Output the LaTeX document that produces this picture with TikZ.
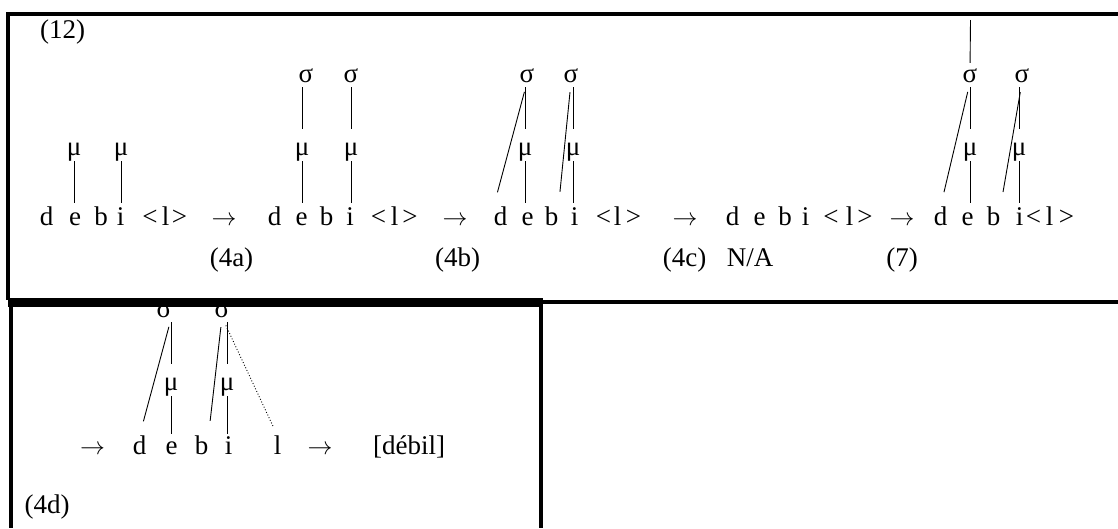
\documentclass[tikz,border=0pt]{standalone}
\usepackage{fontspec}
\setmainfont{Liberation Serif}
\newcommand{\rarr}{$\rightarrow$}
\tikzset{
  seg/.style={inner sep=0pt, anchor=base, text height=18pt, text depth=0pt},
  sg/.style={inner sep=0pt, anchor=base, text height=12pt, text depth=0pt},
  mo/.style={inner sep=0pt, anchor=base, text height=12pt, text depth=6pt},
  lbl/.style={inner sep=0pt, anchor=base},
  assoc/.style={line width=0.9pt},
  smlink/.style={assoc, shorten <=5pt, shorten >=14pt},
  mslink/.style={assoc, shorten >=4pt},
  onset/.style={assoc, shorten <=10pt, shorten >=15pt},
  frame/.style={line width=4pt},
}
\begin{document}
\begin{tikzpicture}[x=1pt,y=-1pt,font=\fontsize{27}{32}\selectfont]
\useasboundingbox (0,0) rectangle (1118,528);
% ---------- labels
\node[lbl] (L12) at (62.5,38) {(12)};
\node[lbl] (L4a) at (231.5,266) {(4a)};
\node[lbl] (L4b) at (457.5,266) {(4b)};
\node[lbl] (L4c) at (684.5,266) {(4c)};
\node[lbl] (LNA) at (750,266) {N/A};
\node[lbl] (L7) at (902,266) {(7)};
\node[lbl] (L4d) at (47,513) {(4d)};
% ---------- group 1
\node[seg] (d1) at (46.5,225) {d};
\node[seg] (e1) at (75,225) {e};
\node[seg] (b1) at (101,225) {b};
\node[seg] (i1) at (120.5,225) {i};
\node[seg] (lt1) at (150,225) {<};
\node[seg] (l1) at (165.5,225) {l};
\node[seg] (gt1) at (179.5,225) {>};
\node[lbl] (a1) at (224,225) {\rarr};
\node[mo] (m11) at (74,155) {μ};
\node[mo] (m12) at (121,155) {μ};
\draw[mslink] (m11.south) -- (m11.south |- e1.north);
\draw[mslink] (m12.south) -- (m12.south |- i1.north);
% ---------- group 2
\node[seg] (d2) at (274.5,225) {d};
\node[seg] (e2) at (301.5,225) {e};
\node[seg] (b2) at (326.5,225) {b};
\node[seg] (i2) at (350,225) {i};
\node[seg] (lt2) at (378.5,225) {<};
\node[seg] (l2) at (394.5,225) {l};
\node[seg] (gt2) at (410,225) {>};
\node[lbl] (a2) at (455,225) {\rarr};
\node[sg] (s21) at (306,82) {σ};
\node[sg] (s22) at (351,82) {σ};
\node[mo] (m21) at (302,155) {μ};
\node[mo] (m22) at (351,155) {μ};
\draw[smlink] (m21.north |- s21.south) -- (m21.north);
\draw[smlink] (m22.north |- s22.south) -- (m22.north);
\draw[mslink] (m21.south) -- (m21.south |- e2.north);
\draw[mslink] (m22.south) -- (m22.south |- i2.north);
% ---------- group 3
\node[seg] (d3) at (500.5,225) {d};
\node[seg] (e3) at (527.5,225) {e};
\node[seg] (b3) at (551.5,225) {b};
\node[seg] (i3) at (574.5,225) {i};
\node[seg] (lt3) at (603.5,225) {<};
\node[seg] (l3) at (617.5,225) {l};
\node[seg] (gt3) at (633.5,225) {>};
\node[lbl] (a3) at (685,225) {\rarr};
\node[sg] (s31) at (527,82) {σ};
\node[sg] (s32) at (571,82) {σ};
\node[mo] (m31) at (525,155) {μ};
\node[mo] (m32) at (573,155) {μ};
\draw[smlink] (m31.north |- s31.south) -- (m31.north);
\draw[smlink] (m32.north |- s32.south) -- (m32.north);
\draw[mslink] (m31.south) -- (m31.south |- e3.north);
\draw[mslink] (m32.south) -- (m32.south |- i3.north);
\draw[onset] (s31.south) -- (d3.north west);
\draw[onset] (s32.south) -- (b3.north east);
% ---------- group 4
\node[seg] (d4) at (732.5,225) {d};
\node[seg] (e4) at (759.5,225) {e};
\node[seg] (b4) at (785,225) {b};
\node[seg] (i4) at (805.5,225) {i};
\node[seg] (lt4) at (831,225) {<};
\node[seg] (l4) at (849.5,225) {l};
\node[seg] (gt4) at (865,225) {>};
\node[lbl] (a4) at (902,225) {\rarr};
% ---------- group 5
\node[seg] (d5) at (940.5,225) {d};
\node[seg] (e5) at (967.5,225) {e};
\node[seg] (b5) at (993.5,225) {b};
\node[seg] (i5) at (1019.5,225) {i};
\node[seg] (lt5) at (1033.5,225) {<};
\node[seg] (l5) at (1049.5,225) {l};
\node[seg] (gt5) at (1066.5,225) {>};
\node[sg] (s51) at (970,82) {σ};
\node[sg] (s52) at (1022,82) {σ};
\node[mo] (m51) at (970,155) {μ};
\node[mo] (m52) at (1019,155) {μ};
\coordinate (ft) at (970.5,20);
\draw[assoc, shorten <=7pt] (s51.north) -- (ft);
\draw[smlink] (m51.north |- s51.south) -- (m51.north);
\draw[smlink] (m52.north |- s52.south) -- (m52.north);
\draw[mslink] (m51.south) -- (m51.south |- e5.north);
\draw[mslink] (m52.south) -- (m52.south |- i5.north);
\draw[onset] (s51.south) -- (d5.north);
\draw[onset] (s52.south) -- (b5.north east);
% ---------- lower box
\node[lbl] (la1) at (92.5,454) {\rarr};
\node[seg] (ld) at (139.5,454) {d};
\node[seg] (le) at (171.5,454) {e};
\node[seg] (lb) at (201.5,454) {b};
\node[seg] (li) at (228.5,454) {i};
\node[seg] (ll) at (277.5,454) {l};
\node[lbl] (la2) at (320,454) {\rarr};
\node[lbl] (lres) at (409,454) {[débil]};
\node[sg] (ls1) at (164,317) {σ};
\node[sg] (ls2) at (222,317) {σ};
\node[mo] (lm1) at (171,390) {μ};
\node[mo] (lm2) at (227,390) {μ};
\draw[smlink] (lm1.north |- ls1.south) -- (lm1.north);
\draw[smlink] (lm2.north |- ls2.south) -- (lm2.north);
\draw[assoc, shorten >=2pt] (lm1.south) -- (lm1.south |- le.north);
\draw[assoc, shorten >=2pt] (lm2.south) -- (lm2.south |- li.north);
\draw[onset] (ls1.south east) -- (ld.north);
\draw[onset] (ls2.south) -- (lb.north east);
\draw[assoc, dotted, shorten <=9pt, shorten >=9pt] (ls2.south) -- (ll.north);
% ---------- frames
\draw[frame] (6,13.5) -- (1118,13.5);
\draw[frame] (8,12) -- (8,300);
\draw[line width=9pt] (8,302) -- (543,302);
\draw[frame] (540,302) -- (1118,302);
\draw[frame] (11,302) -- (11,528);
\draw[frame] (540.5,302) -- (540.5,528);
\end{tikzpicture}
\end{document}
